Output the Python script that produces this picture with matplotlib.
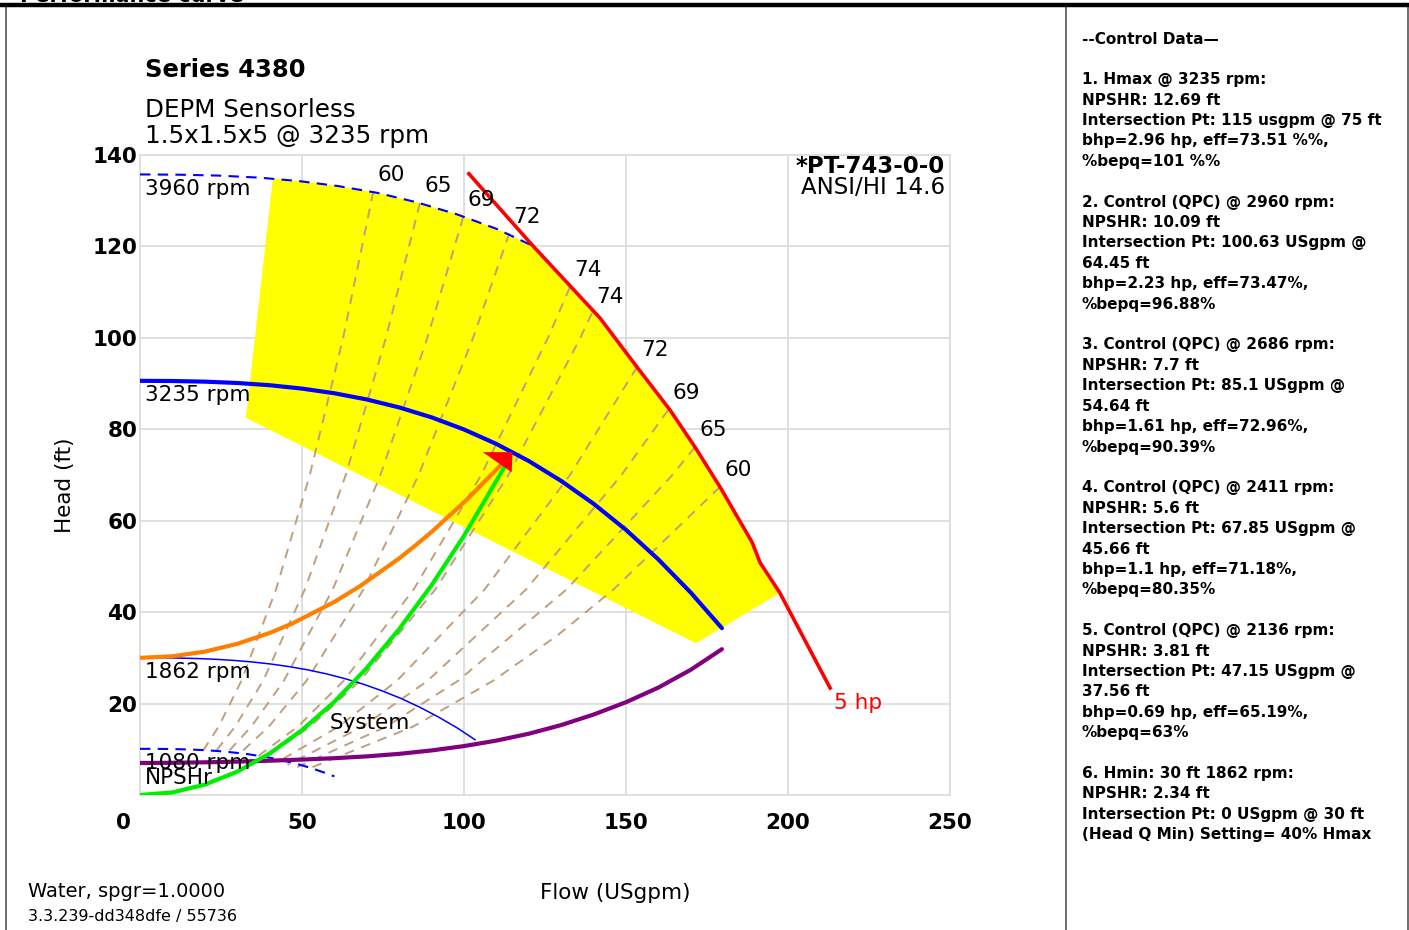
import matplotlib
matplotlib.use("Agg")
import matplotlib.pyplot as plt
import matplotlib.transforms as mtransforms
from matplotlib.patches import Polygon
from matplotlib.lines import Line2D

# ---- data ----
# full-speed curve, 3235 rpm
q_3235 = [0, 10, 20, 30, 40, 50, 60, 70, 80, 90, 100, 110, 120, 130, 140, 150, 160, 170, 179.6]
h_3235 = [90.6, 90.56, 90.42, 90.13, 89.64, 88.9, 87.88, 86.52, 84.78, 82.61, 79.96,
          76.79, 73.06, 68.7, 63.71, 58.0, 51.53, 44.27, 36.5]

# max speed, 3960 rpm (stops at the power limit)
q_3960 = [0, 12.2, 24.5, 36.7, 49, 61.2, 73.4, 85.7, 97.9, 110.2, 121.3]
h_3960 = [135.75, 135.69, 135.49, 135.05, 134.3, 133.2, 131.7, 129.6, 127.0, 123.8, 120.1]

# Hmin speed, 1862 rpm
q_1862 = [0, 5.8, 11.5, 17.3, 23, 28.8, 34.5, 40.3, 46, 51.8, 57.6, 63.3, 69.1, 74.8,
          80.6, 86.3, 92.1, 97.9, 103.4]
h_1862 = [30.02, 30.0, 29.96, 29.86, 29.7, 29.45, 29.11, 28.66, 28.09, 27.37, 26.49,
          25.44, 24.2, 22.76, 21.11, 19.22, 17.07, 14.67, 12.09]

# min speed, 1080 rpm
q_1080 = [0, 3.3, 6.7, 10, 13.4, 16.7, 20, 23.4, 26.7, 30, 33.4, 36.7, 40.1, 43.4,
          46.7, 50.1, 53.4, 56.7, 60]
h_1080 = [10.1, 10.1, 10.08, 10.05, 9.99, 9.91, 9.8, 9.65, 9.45, 9.21, 8.92, 8.56,
          8.15, 7.66, 7.1, 6.47, 5.75, 4.94, 4.07]

# 5 hp power limit
q_5hp = [101.5, 121.3, 142, 153.4, 163.6, 171.3, 179, 188.9, 191.4, 197.5, 213]
h_5hp = [135.9, 120.1, 104.3, 93.6, 84.2, 76.1, 67.4, 55.3, 50.8, 44.2, 23.4]

# control curve (QPC) through the intersection points
q_ctrl = [0, 10, 20, 30, 40, 47.15, 60, 67.85, 80, 85.1, 90, 100.63, 111.7]
h_ctrl = [30.0, 30.34, 31.36, 33.06, 35.44, 37.56, 42.24, 45.66, 51.76, 54.64, 57.54, 64.45, 72.4]

# system curve
q_sys = [0, 10, 20, 30, 40, 50, 60, 70, 80, 90, 100, 112.7]
h_sys = [0.0, 0.57, 2.27, 5.1, 9.07, 14.2, 20.4, 27.8, 36.3, 45.9, 56.7, 72.0]

# NPSHr
q_npsh = [0, 10, 20, 30, 40, 50, 60, 70, 80, 90, 100, 110, 120, 130, 140, 150, 160, 170, 179.6]
h_npsh = [7.0, 7.05, 7.15, 7.3, 7.5, 7.75, 8.05, 8.45, 9.0, 9.75, 10.7, 11.9, 13.4,
          15.3, 17.6, 20.3, 23.5, 27.4, 31.9]

# operating point (Hmax intersection)
op_q, op_h = 115, 75

# preferred region corners (top-left, right, bottom, left)
por_q = [41, 197.5, 171.6, 32.7]
por_h = [134.9, 44.2, 33.2, 82.5]

# iso-efficiency lines: label, flow points, head points
eff_labels = ["60", "65", "69", "72", "74", "74", "72", "69", "65", "60"]
eff_q = [
    [72.0, 62.7, 52.4, 42.0, 31.3, 24.3, 19.3],
    [86.4, 75.9, 63.5, 50.9, 38.0, 29.4, 23.0],
    [99.8, 88.7, 74.2, 59.5, 44.4, 34.4, 26.5],
    [114.0, 102.8, 86.0, 69.0, 51.4, 39.8, 30.1],
    [132.7, 125.9, 105.3, 84.5, 62.9, 48.8, 35.5],
    [139.5, 135.9, 113.7, 91.2, 67.9, 52.6, 37.7],
    [153.4, 132.7, 106.4, 79.3, 61.4, 42.2],
    [163.0, 148.6, 119.2, 88.8, 68.8, 45.5],
    [171.3, 164.3, 131.7, 98.2, 76.1, 48.5],
    [179.0, 146.2, 129.0, 109.0, 84.4, 51.5],
]
eff_h = [
    [132.0, 100, 70, 45, 25, 15, 9.5],
    [129.5, 100, 70, 45, 25, 15, 9.2],
    [126.5, 100, 70, 45, 25, 15, 8.9],
    [122.9, 100, 70, 45, 25, 15, 8.6],
    [111.1, 100, 70, 45, 25, 15, 8.0],
    [105.4, 100, 70, 45, 25, 15, 7.7],
    [93.6, 70, 45, 25, 15, 7.1],
    [84.2, 70, 45, 25, 15, 6.6],
    [76.1, 70, 45, 25, 15, 6.1],
    [67.4, 45, 35, 25, 15, 5.6],
]

x_ticks = [0, 50, 100, 150, 200, 250]
y_ticks = [20, 40, 60, 80, 100, 120, 140]

control_lines = [
    "--Control Data\u2014",
    "",
    "1. Hmax @ 3235 rpm:",
    "NPSHR: 12.69 ft",
    "Intersection Pt: 115 usgpm @ 75 ft",
    "bhp=2.96 hp, eff=73.51 %%,",
    "%bepq=101 %%",
    "",
    "2. Control (QPC) @ 2960 rpm:",
    "NPSHR: 10.09 ft",
    "Intersection Pt: 100.63 USgpm @",
    "64.45 ft",
    "bhp=2.23 hp, eff=73.47%,",
    "%bepq=96.88%",
    "",
    "3. Control (QPC) @ 2686 rpm:",
    "NPSHR: 7.7 ft",
    "Intersection Pt: 85.1 USgpm @",
    "54.64 ft",
    "bhp=1.61 hp, eff=72.96%,",
    "%bepq=90.39%",
    "",
    "4. Control (QPC) @ 2411 rpm:",
    "NPSHR: 5.6 ft",
    "Intersection Pt: 67.85 USgpm @",
    "45.66 ft",
    "bhp=1.1 hp, eff=71.18%,",
    "%bepq=80.35%",
    "",
    "5. Control (QPC) @ 2136 rpm:",
    "NPSHR: 3.81 ft",
    "Intersection Pt: 47.15 USgpm @",
    "37.56 ft",
    "bhp=0.69 hp, eff=65.19%,",
    "%bepq=63%",
    "",
    "6. Hmin: 30 ft 1862 rpm:",
    "NPSHR: 2.34 ft",
    "Intersection Pt: 0 USgpm @ 30 ft",
    "(Head Q Min) Setting= 40% Hmax",
]

W, H = 1409, 930
fig = plt.figure(figsize=(W / 100, H / 100), dpi=100)


def fx(px):
    return px / W


def fy(py):
    return 1 - py / H


ax = fig.add_axes([fx(140), fy(795), 810 / W, 640 / H])
ax.set_xlim(0, 250)
ax.set_ylim(0, 140)
ax.set_xticks(x_ticks)
ax.set_yticks(y_ticks)
ax.grid(True, color="#dddddd", linewidth=1.3, zorder=0)
ax.set_axisbelow(True)
for s in ax.spines.values():
    s.set_color("#dddddd")
    s.set_linewidth(1.3)
ax.tick_params(length=0, labelsize=15.5)
ax.tick_params(axis="x", pad=13)
ax.tick_params(axis="y", pad=2)
for lab in ax.get_xticklabels() + ax.get_yticklabels():
    lab.set_fontweight("bold")
zero = ax.get_xticklabels()[0]
zero.set_transform(zero.get_transform() + mtransforms.ScaledTranslation(-0.17, 0, fig.dpi_scale_trans))

# preferred operating region (yellow)
poly = [(por_q[0], por_h[0])]
poly += [(q, h) for q, h in zip(q_3960, h_3960) if q > por_q[0]]
poly += [(q, h) for q, h in zip(q_5hp, h_5hp) if q_3960[-1] < q <= por_q[1]]
poly += list(zip(por_q[2:], por_h[2:]))
ax.add_patch(Polygon(poly, closed=True, facecolor="#ffff00", edgecolor="none", zorder=1))

# iso-efficiency lines
for lab, qs, hs in zip(eff_labels, eff_q, eff_h):
    ax.plot(qs, hs, color="#bf9f7f", lw=1.4, ls=(0, (5, 4)), zorder=2)
    ax.annotate(lab, (qs[0], hs[0]), xytext=(13, 12), textcoords="offset points",
                ha="center", va="center", fontsize=15.5, zorder=6)

ax.plot(q_3960, h_3960, color="#0000ff", lw=1.5, ls=(0, (5, 3.5)), zorder=3)
ax.plot(q_1080, h_1080, color="#0000ff", lw=1.5, ls=(0, (5, 3.5)), zorder=3)
ax.plot(q_1862, h_1862, color="#0000ff", lw=1.1, zorder=3)
ax.plot(q_3235, h_3235, color="#0000ff", lw=3.0, zorder=4, solid_capstyle="round")
ax.plot(q_5hp, h_5hp, color="#ff0000", lw=2.6, zorder=4)
ax.plot(q_npsh, h_npsh, color="#800080", lw=3.0, zorder=4, solid_capstyle="round")
ax.plot(q_ctrl, h_ctrl, color="#ff8000", lw=3.0, zorder=4)
ax.plot(q_sys, h_sys, color="#00ee00", lw=3.0, zorder=4)

# arrow head at the Hmax intersection
tri_dq, tri_dh = [-9.2, 0.0, -0.3], [0.0, 0.0, -4.4]
ax.add_patch(Polygon([(op_q + a, op_h + b) for a, b in zip(tri_dq, tri_dh)], closed=True,
                     facecolor="#ff0000", edgecolor="none", zorder=5))

# curve labels
for txt, qs, hs in [("3960 rpm", q_3960, h_3960), ("3235 rpm", q_3235, h_3235),
                    ("1862 rpm", q_1862, h_1862), ("1080 rpm", q_1080, h_1080),
                    ("NPSHr", q_npsh, h_npsh)]:
    ax.annotate(txt, (qs[0], hs[0]), xytext=(3.6, -10.5), textcoords="offset points",
                ha="left", va="center", fontsize=15.5, zorder=6)
ax.text(58.5, 15.8, "System", ha="left", va="center", fontsize=15.5, zorder=6)
ax.annotate("5 hp", (q_5hp[-1], h_5hp[-1]), xytext=(3, -11), textcoords="offset points",
            ha="left", va="center", fontsize=15.5, color="#ff0000", zorder=6)

ax.text(0.994, 0.982, "*PT-743-0-0", transform=ax.transAxes, ha="right", va="center",
        fontsize=16.5, fontweight="bold")
ax.text(0.994, 0.949, "ANSI/HI 14.6", transform=ax.transAxes, ha="right", va="center",
        fontsize=16.5)

# headings and axis titles
fig.text(fx(145), fy(70), "Series 4380", fontsize=17.5, fontweight="bold", va="center")
fig.text(fx(145), fy(110), "DEPM Sensorless", fontsize=17.7, va="center")
fig.text(fx(145), fy(136), "1.5x1.5x5 @ 3235 rpm", fontsize=17.7, va="center")
fig.text(fx(65), fy(485), "Head (ft)", rotation=90, fontsize=15.5, ha="center", va="center")
fig.text(fx(615), fy(893), "Flow (USgpm)", fontsize=15.5, ha="center", va="center")
fig.text(fx(28), fy(891), "Water, spgr=1.0000", fontsize=14, va="center")
fig.text(fx(28), fy(916), "3.3.239-dd348dfe / 55736", fontsize=11.5, va="center")
fig.text(fx(20), fy(2), "Performance curve", fontsize=15, fontweight="bold", va="baseline", zorder=1)

# frame
fig.add_artist(Line2D([0, 1], [fy(5.5), fy(5.5)], color="black", lw=3.2,
                      transform=fig.transFigure, zorder=10))
for xpx in [6, 1066, 1407.5]:
    fig.add_artist(Line2D([fx(xpx), fx(xpx)], [0, fy(7)], color="#555555", lw=1.2,
                          transform=fig.transFigure))

# control data panel
for i, line in enumerate(control_lines):
    if line:
        fig.text(fx(1082), fy(39 + i * 20.4), line, fontsize=11, fontweight="bold", va="center")

fig.savefig("out.png", dpi=100)
